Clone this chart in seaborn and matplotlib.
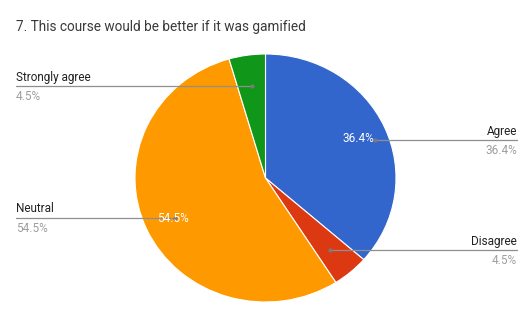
import matplotlib
matplotlib.use("Agg")
import matplotlib.pyplot as plt
import seaborn as sns

title = "7. This course would be better if it was gamified"
categories = ["Agree", "Disagree", "Neutral", "Strongly agree"]
values = [36.4, 4.5, 54.5, 4.5]
pct_labels = ["36.4%", "4.5%", "54.5%", "4.5%"]
colors = ["#3366CC", "#DC3912", "#FF9900", "#109618"]

sns.set_theme(style="white")
plt.rcParams["font.family"] = ["Roboto", "DejaVu Sans"]

W, H = 530, 325
fig = plt.figure(figsize=(W / 100, H / 100), dpi=100)
fig.patch.set_facecolor("white")
ax = fig.add_axes([0, 0, 1, 1])

cx, cy, rx, ry = 265.5, 178.0, 130.5, 124.0
ax.pie(values, colors=colors, startangle=90, counterclock=False,
       radius=1, center=(0, 0),
       wedgeprops=dict(edgecolor="white", linewidth=0.8))
ax.set_aspect("auto")
ax.set_xlim(-cx / rx, (W - cx) / rx)
ax.set_ylim(-(H - cy) / ry, cy / ry)
ax.axis("off")


def fx(px):
    return px / W


def fy(py):
    return 1 - py / H


fig.text(fx(16), fy(27), title, fontsize=9.8, color="#3a3a3a", va="center", ha="left")

# leader lines: (label, x_start, x_end, y, side)
label_layout = {
    "Strongly agree": (16, 252, 86, "left"),
    "Agree": (375, 517, 140, "right"),
    "Neutral": (16, 175, 218, "left"),
    "Disagree": (330, 517, 250, "right"),
}
for cat, pct in zip(categories, pct_labels):
    x0, x1, y, side = label_layout[cat]
    fig.add_artist(plt.Line2D([fx(x0), fx(x1)], [fy(y), fy(y)],
                              color="#8f8f8f", linewidth=0.9,
                              transform=fig.transFigure))
    dot_x = x1 if side == "left" else x0
    fig.add_artist(plt.Line2D([fx(dot_x)], [fy(y)], marker="o", markersize=2,
                              color="#7a7a7a", transform=fig.transFigure))
    tx = x0 if side == "left" else x1
    fig.text(fx(tx), fy(y - 9), cat, fontsize=8.5, color="#222222",
             ha=side, va="center")
    fig.text(fx(tx), fy(y + 10), pct, fontsize=8.5, color="#9e9e9e",
             ha=side, va="center")

# inside labels
fig.text(fx(358), fy(139), pct_labels[0], fontsize=8.5, color="white", ha="center", va="center")
fig.text(fx(173), fy(218), pct_labels[2], fontsize=8.5, color="white", ha="center", va="center")

fig.savefig("out.png", dpi=100, facecolor="white")
